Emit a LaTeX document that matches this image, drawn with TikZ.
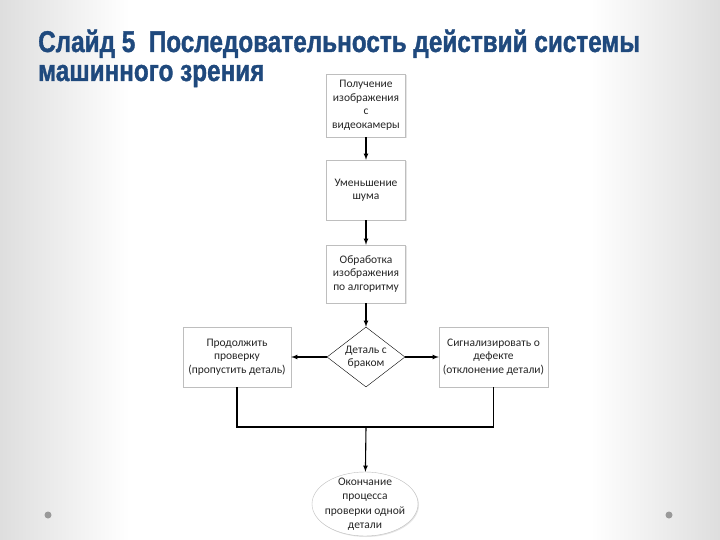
\documentclass[tikz,border=0pt]{standalone}
\usepackage{fontspec}
\setmainfont{Carlito}
\newfontfamily\titlefont[FakeStretch=0.81,FakeBold=1.2]{Liberation Sans Bold}
\usepackage{tikz}
\usetikzlibrary{shapes.geometric,shadows}
\definecolor{titleblue}{RGB}{31,73,125}
\definecolor{boxline}{RGB}{190,190,190}
\pgfdeclarehorizontalshading{slide}{100bp}{color(0bp)=(black!13); color(25bp)=(black!13); color(34bp)=(white); color(66bp)=(white); color(75bp)=(black!13); color(100bp)=(black!13)}

\begin{document}
\begin{tikzpicture}[x=1pt,y=-1pt,>=latex]

	\tikzstyle title text=[anchor=base west, inner sep=0, text=titleblue, font=\titlefont\fontsize{30}{32}\selectfont];
	\tikzstyle process box=[draw=boxline, fill=white, align=center, inner sep=1pt, text=black!85, font=\fontsize{11.5}{13.5}\selectfont, drop shadow={opacity=.2, shadow xshift=1pt, shadow yshift=-1pt}];
	\tikzstyle decision=[diamond, draw, fill=white, aspect=1.3, inner sep=0, align=center, text=black!85, font=\fontsize{11.5}{13.5}\selectfont, minimum width=78, minimum height=60];
	\tikzstyle terminal=[ellipse, draw=boxline, fill=white, inner xsep=-5pt, inner ysep=-8pt, align=center, text=black!85, font=\fontsize{11.5}{14.5}\selectfont, minimum width=106, minimum height=64, drop shadow={opacity=.2, shadow xshift=1pt, shadow yshift=-1pt}];
	\tikzstyle flow line=[->, line width=1.1pt];
	\tikzstyle join line=[line width=1.1pt];

	% slide background
	\shade[shading=slide] (0,0) rectangle (720,540);
	\useasboundingbox (0,0) rectangle (720,540);
	\fill[gray!80] (48,515) circle (3.5);
	\fill[gray!80] (669,515) circle (3.5);

	\node[title text] (title1) at (38,52) {Слайд 5\ \ Последовательность действий системы};
	\node[title text] (title2) at (38,81) {машинного зрения};

	\node[process box, minimum width=79, minimum height=63] (capture) at (366,105.5) {Получение\\изображения\\с\\видеокамеры};
	\node[process box, minimum width=79, minimum height=60] (denoise) at (366,190) {Уменьшение\\шума};
	\node[process box, minimum width=79, minimum height=58] (analyse) at (366,274) {Обработка\\изображения\\по алгоритму};
	\node[decision] (check) at (366,357) {Деталь с\\браком};
	\node[process box, minimum width=108, minimum height=60] (skip) at (237,357) {Продолжить\\проверку\\(пропустить деталь)};
	\node[process box, minimum width=109, minimum height=60] (reject) at (493.5,357) {Сигнализировать о\\дефекте\\(отклонение детали)};
	\node[terminal] (finish) at (365,504) {Окончание\\процесса\\проверки одной\\детали};
	\coordinate (join) at (366,427);

	\draw[flow line] (capture) -- (denoise);
	\draw[flow line] (denoise) -- (analyse);
	\draw[flow line] (analyse) -- (check);
	\draw[flow line] (check) -- (skip);
	\draw[flow line] (check) -- (reject);
	\draw[join line] (skip.south) |- (join) -| (reject.south);
	\draw[flow line] (join) -- (finish);

\end{tikzpicture}
\end{document}
